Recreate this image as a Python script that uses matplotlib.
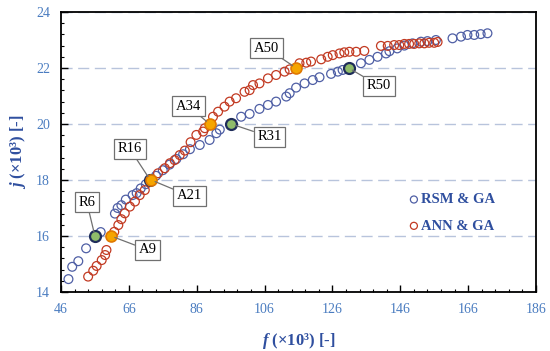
import matplotlib
matplotlib.use("Agg")
import matplotlib.pyplot as plt
from matplotlib.ticker import MultipleLocator

plt.rcParams["font.family"] = "Liberation Serif"
plt.rcParams["mathtext.fontset"] = "custom"
plt.rcParams["mathtext.it"] = "Liberation Serif:italic:bold"
plt.rcParams["mathtext.rm"] = "Liberation Serif:bold"

# RSM & GA pareto front
rsm_f = [48.2, 49.3, 51.1, 53.4, 57.7, 61.9, 62.7, 63.8, 65.1, 67.1, 68.3, 69.5,
         71.0, 74.0, 76.0, 78.0, 80.0, 82.0, 84.0, 86.9, 89.8, 91.8, 92.8, 99.1,
         101.6, 104.5, 107.0, 109.4, 112.4, 113.4, 115.3, 117.8, 120.2, 122.2,
         125.6, 127.6, 129.0, 134.4, 136.9, 139.3, 141.8, 142.8, 145.1, 147.2,
         149.6, 152.1, 154.0, 156.5, 161.4, 163.9, 165.8, 167.8, 169.7, 171.7]
rsm_j = [14.46, 14.9, 15.1, 15.56, 16.14, 16.8, 17.0, 17.1, 17.3, 17.46, 17.53, 17.7,
         17.85, 18.15, 18.35, 18.55, 18.75, 18.92, 19.1, 19.25, 19.43, 19.67, 19.8, 20.26,
         20.36, 20.54, 20.68, 20.8, 20.98, 21.1, 21.3, 21.45, 21.57, 21.67,
         21.79, 21.87, 21.93, 22.17, 22.29, 22.40, 22.52, 22.6, 22.7, 22.8,
         22.88, 22.94, 22.96, 23.0, 23.06, 23.12, 23.18, 23.18, 23.21, 23.24]

# ANN & GA pareto front
ann_f = [54.0, 55.5, 56.5, 58.0, 59.0, 59.4, 61.7, 62.9, 63.8, 64.8, 66.3, 67.8,
         69.2, 70.7, 74.6, 76.6, 78.1, 79.5, 81.0, 82.5, 84.2, 85.9, 87.9, 88.4,
         90.8, 92.3, 94.2, 95.7, 97.6, 100.1, 101.6, 102.6, 104.5, 107.0, 109.4,
         111.9, 113.4, 116.3, 118.3, 119.7, 122.7, 124.6, 126.1, 128.1, 129.5,
         131.0, 133.0, 135.4, 140.3, 142.3, 144.2, 145.7, 147.2, 148.6, 150.1,
         151.6, 153.1, 154.5, 156.0, 157.0]
ann_j = [14.55, 14.76, 14.93, 15.14, 15.32, 15.5, 16.15, 16.39, 16.6, 16.81, 17.05, 17.23,
         17.46, 17.64, 18.24, 18.42, 18.6, 18.71, 18.89, 19.05, 19.35, 19.61, 19.73, 19.85,
         20.26, 20.44, 20.62, 20.8, 20.92, 21.15, 21.21, 21.39, 21.45, 21.63, 21.75,
         21.87, 21.95, 22.17, 22.19, 22.23, 22.31, 22.40, 22.46, 22.52, 22.56,
         22.58, 22.58, 22.61, 22.79, 22.79, 22.82, 22.82, 22.86, 22.86, 22.86,
         22.88, 22.88, 22.90, 22.90, 22.93]

# selected points and where their labels sit
r_names = ["R6", "R16", "R31", "R50"]
r_f = [56.0, 72.3, 96.2, 130.8]
r_j = [16.0, 18.0, 20.0, 22.0]
r_label_f = [53.6, 66.3, 107.5, 139.8]
r_label_j = [17.21, 19.11, 19.54, 21.36]

a_names = ["A9", "A21", "A34", "A50"]
a_f = [60.7, 72.6, 89.8, 115.3]
a_j = [16.0, 18.0, 20.0, 22.0]
a_label_f = [71.6, 83.9, 83.6, 106.6]
a_label_j = [15.5, 17.43, 20.64, 22.71]

blue = "#4f5fa5"
red = "#c23a22"
tick_blue = "#4a7cc0"
label_blue = "#2f4f9f"

fig = plt.figure(figsize=(5.5, 3.51), dpi=100)
ax = fig.add_axes([0.1109, 0.1681, 0.8636, 0.7977])

ax.grid(axis="y", color="#b8c4dc", linestyle=(0, (8, 4)), linewidth=1.0)
ax.set_axisbelow(True)

ax.scatter(rsm_f, rsm_j, s=40, facecolors="none", edgecolors=blue,
           linewidths=0.9, label="RSM & GA", zorder=2)
ax.scatter(ann_f, ann_j, s=40, facecolors="none", edgecolors=red,
           linewidths=0.9, label="ANN & GA", zorder=2)

ax.scatter(r_f, r_j, s=62, facecolors="#8fbc6a", edgecolors="#1f2d5a",
           linewidths=1.6, zorder=3)
ax.scatter(a_f, a_j, s=62, facecolors="#f5a500", edgecolors="#e07800",
           linewidths=1.2, zorder=4)

box = dict(boxstyle="square,pad=0.25", fc="white", ec="#707070", lw=0.9)
for name, x, y, lx, ly in zip(r_names + a_names, r_f + a_f, r_j + a_j,
                              r_label_f + a_label_f, r_label_j + a_label_j):
    ax.annotate(name, xy=(x, y), xytext=(lx, ly), fontsize=10.5,
                ha="center", va="center", bbox=box, zorder=5,
                arrowprops=dict(arrowstyle="-", color="#707070", lw=0.9,
                                shrinkA=0, shrinkB=3))

ax.set_xlim(46, 186)
ax.set_ylim(14, 24)
ax.xaxis.set_major_locator(MultipleLocator(20, offset=6))
ax.xaxis.set_minor_locator(MultipleLocator(4, offset=2))
ax.yaxis.set_major_locator(MultipleLocator(2))
ax.yaxis.set_minor_locator(MultipleLocator(0.4))
ax.tick_params(which="major", direction="in", length=5, width=1.0,
               labelsize=10, labelcolor=tick_blue, pad=8)
ax.tick_params(which="minor", direction="in", length=2.5, width=0.8)
for sp in ax.spines.values():
    sp.set_linewidth(1.3)

ax.set_xlabel(r"$f$ (×10³) [-]", fontsize=12, fontweight="bold",
              color=label_blue, labelpad=11)
ax.set_ylabel(r"$j$ (×10³) [-]", fontsize=12, fontweight="bold",
              color=label_blue, labelpad=6)

leg = ax.legend(loc="upper left", bbox_to_anchor=(0.7, 0.4), frameon=False,
                handletextpad=0.0, handlelength=1.0, labelspacing=0.9,
                markerscale=0.8, prop={"weight": "bold", "size": 10.5})
for t in leg.get_texts():
    t.set_color(label_blue)

fig.savefig("out.png", dpi=100)
